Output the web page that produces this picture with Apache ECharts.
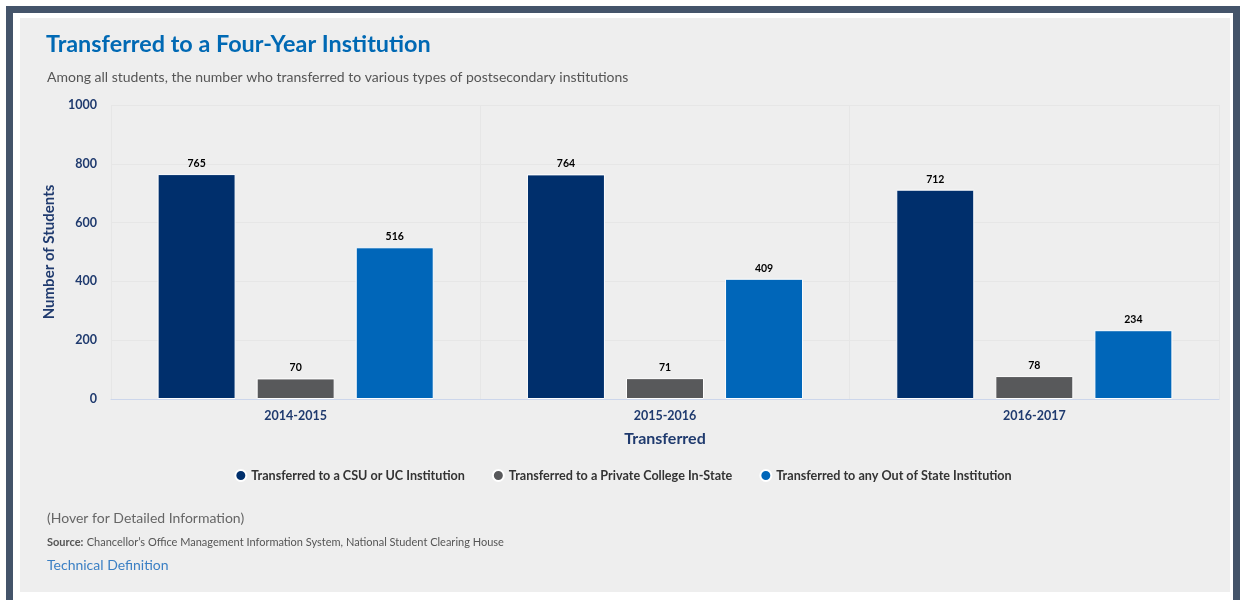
<!DOCTYPE html>
<html><head><meta charset="utf-8">
<script src="https://cdn.jsdelivr.net/npm/echarts@6/dist/echarts.min.js"></script>
<style>html,body{margin:0;padding:0;background:#fff}#c{width:1246px;height:600px}</style>
</head><body><div id="c"></div>
<script>
const categories = ['2014-2015', '2015-2016', '2016-2017'];
const seriesNames = ['Transferred to a CSU or UC Institution', 'Transferred to a Private College In-State', 'Transferred to any Out of State Institution'];
const csuUc = [765, 764, 712];
const privateInState = [70, 71, 78];
const outOfState = [516, 409, 234];
const yTicks = [0, 200, 400, 600, 800, 1000];
const colors = ['#002f6c', '#58595b', '#0066b9'];
const FONT = 'Lato';

const chart = echarts.init(document.getElementById('c'), null, {renderer: 'canvas'});
const values = [csuUc, privateInState, outOfState];
chart.setOption({
  animation: false,
  backgroundColor: '#ffffff',
  textStyle: {fontFamily: FONT},
  graphic: [
    {type: 'rect', z: -10, shape: {x: 9.5, y: 9.5, width: 1227, height: 610}, style: {fill: '#ffffff', stroke: '#44546a', lineWidth: 7}},
    {type: 'rect', z: -9, shape: {x: 20, y: 18, width: 1210, height: 574}, style: {fill: '#eeeeee'}},
    {type: 'text', left: 46, top: 33, style: {text: 'Transferred to a Four-Year Institution', fill: '#0069b4', font: 'bold 23.4px ' + FONT}},
    {type: 'text', left: 47, top: 70, style: {text: 'Among all students, the number who transferred to various types of postsecondary institutions', fill: '#555555', font: '14px ' + FONT}},
    {type: 'text', left: 47, top: 511, style: {text: '(Hover for Detailed Information)', fill: '#666666', font: '14px ' + FONT}},
    {type: 'text', left: 47, top: 536, style: {rich: {b: {fontWeight: 'bold', fontSize: 11, fill: '#555', fontFamily: FONT}, n: {fontSize: 11, fill: '#555', fontFamily: FONT}}, text: '{b|Source:} {n|Chancellor\u2019s Office Management Information System, National Student Clearing House}'}},
    {type: 'text', left: 47, top: 558, style: {text: 'Technical Definition', fill: '#3a7fc4', font: '14px ' + FONT}}
  ],
  legend: {
    bottom: 113, left: 'center', itemGap: 27, icon: 'circle', itemWidth: 11, itemHeight: 11,
    textStyle: {fontWeight: 'bold', fontSize: 12.6, color: '#333333', fontFamily: FONT}
  },
  grid: {left: 111, right: 27, top: 105, bottom: 201},
  xAxis: {
    type: 'category', data: categories,
    name: 'Transferred', nameLocation: 'middle', nameGap: 32,
    nameTextStyle: {color: '#1f3a6e', fontWeight: 'bold', fontSize: 16, fontFamily: FONT},
    axisLine: {lineStyle: {color: '#ccd6eb'}}, axisTick: {show: false},
    axisLabel: {color: '#1f3a6e', fontWeight: 'bold', fontSize: 12.5, margin: 10},
    splitLine: {show: true, lineStyle: {color: '#e6e6e6'}}
  },
  yAxis: {
    type: 'value', min: 0, max: 1000, interval: 200,
    name: 'Number of Students', nameLocation: 'middle', nameGap: 52, nameRotate: 90,
    nameTextStyle: {color: '#1f3a6e', fontWeight: 'bold', fontSize: 15, fontFamily: FONT},
    axisLabel: {color: '#1f3a6e', fontWeight: 'bold', fontSize: 12.5, margin: 14, formatter: v => String(v)},
    splitLine: {lineStyle: {color: '#e6e6e6'}}
  },
  series: seriesNames.map((n, i) => ({
    name: n, type: 'bar', data: values[i], barWidth: 78, barGap: '27%',
    itemStyle: {color: colors[i], borderColor: '#ffffff', borderWidth: 1},
    label: {show: true, position: 'top', distance: 5, color: '#000', fontWeight: 'bold', fontSize: 10.5, fontFamily: FONT}
  }))
});
</script></body></html>
